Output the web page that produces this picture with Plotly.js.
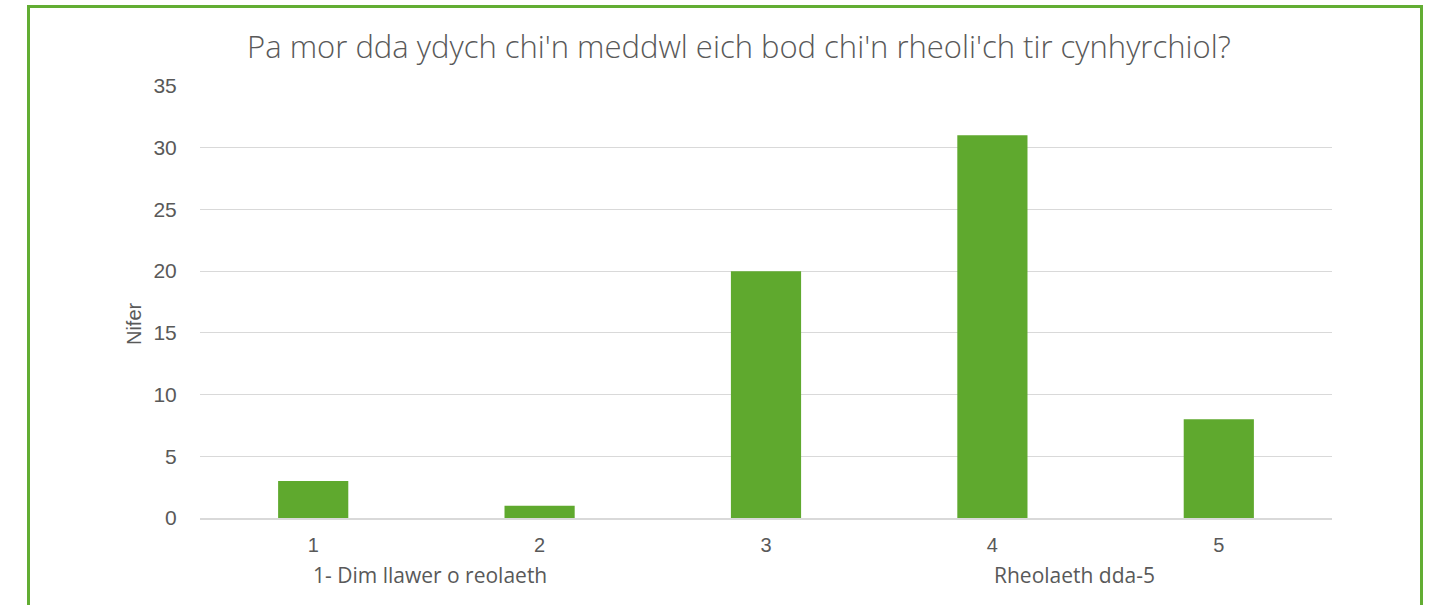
<!DOCTYPE html>
<html>
<head>
<meta charset="utf-8">
<script src="https://cdn.plot.ly/plotly-3.0.1.min.js"></script>
<style>
html,body{margin:0;padding:0;background:#fff;overflow:hidden;}
#frame{position:absolute;left:27px;top:5px;width:1396px;height:620px;border:3px solid #62ad33;box-sizing:border-box;pointer-events:none;z-index:5;}
#chart{position:absolute;left:0;top:0;width:1446px;height:605px;}
</style>
</head>
<body>
<div id="chart"></div>
<div id="frame"></div>
<script>
const categories = ["1", "2", "3", "4", "5"];
const counts = [3, 1, 20, 31, 8];
const yTicks = [0, 5, 10, 15, 20, 25, 30, 35];
const titleText = "Pa mor dda ydych chi'n meddwl eich bod chi'n rheoli'ch tir cynhyrchiol?";
const yTitle = "Nifer";
const lowLabel = "1- Dim llawer o reolaeth";
const highLabel = "Rheolaeth dda-5";

const trace = {
  type: 'bar',
  x: categories,
  y: counts,
  marker: {color: '#5fa92e'},
  hoverinfo: 'x+y'
};

const layout = {
  width: 1446,
  height: 605,
  margin: {l: 200, r: 114, t: 86, b: 87},
  paper_bgcolor: '#ffffff',
  plot_bgcolor: '#ffffff',
  bargap: 0.69,
  showlegend: false,
  title: {
    text: titleText,
    font: {family: 'Open Sans, sans-serif', size: 31, color: '#595959', weight: 300},
    x: 0.511, xanchor: 'center',
    y: 0.922, yanchor: 'middle'
  },
  xaxis: {
    type: 'category',
    tickfont: {family: 'Liberation Sans, Arial, sans-serif', size: 20, color: '#595959'},
    ticks: 'outside', ticklen: 8, tickcolor: 'rgba(0,0,0,0)',
    showgrid: false, zeroline: false,
    showline: true, linecolor: '#d9d9d9', linewidth: 1.5
  },
  yaxis: {
    range: [0, 35],
    tickvals: yTicks,
    tickfont: {family: 'Liberation Sans, Arial, sans-serif', size: 21, color: '#595959'},
    ticks: 'outside', ticklen: 18, tickcolor: 'rgba(0,0,0,0)',
    showgrid: true, gridcolor: '#d9d9d9', gridwidth: 1,
    zeroline: false, showline: false
  },
  annotations: [
    {text: yTitle, xref: 'paper', yref: 'paper', x: -0.0583, y: 0.449, xanchor: 'center', yanchor: 'middle', textangle: -90, showarrow: false,
     font: {family: 'Liberation Sans, Arial, sans-serif', size: 20, color: '#595959'}},
    {text: lowLabel, xref: 'paper', yref: 'paper', x: (430 - 200) / 1132, y: (518 - 575) / 432, xanchor: 'center', yanchor: 'middle', showarrow: false,
     font: {family: 'Open Sans, sans-serif', size: 21, color: '#595959'}},
    {text: highLabel, xref: 'paper', yref: 'paper', x: (1074.5 - 200) / 1132, y: (518 - 575) / 432, xanchor: 'center', yanchor: 'middle', showarrow: false,
     font: {family: 'Open Sans, sans-serif', size: 21, color: '#595959'}}
  ]
};

Plotly.newPlot('chart', [trace], layout, {displayModeBar: false, staticPlot: true});
</script>
</body>
</html>
